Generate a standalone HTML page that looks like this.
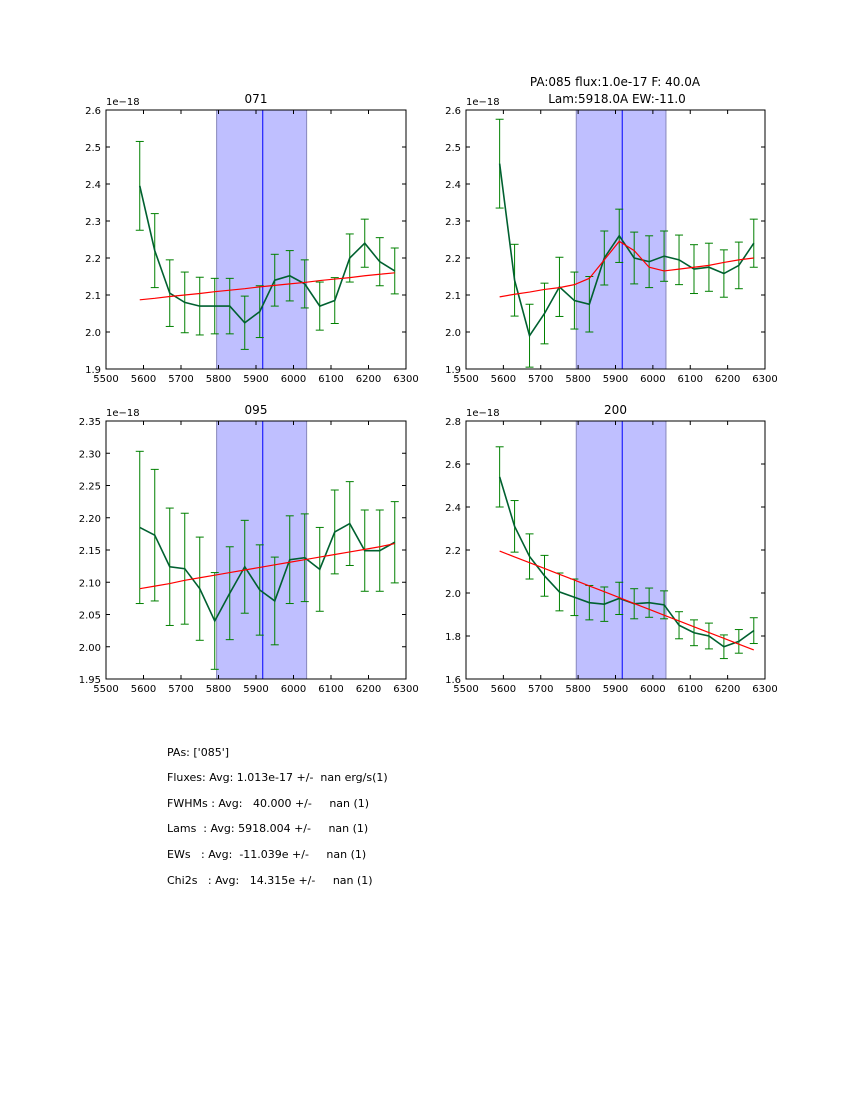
<!DOCTYPE html>
<html><head><meta charset="utf-8"><style>
body{margin:0;background:#fff;font-family:"DejaVu Sans","Liberation Sans",sans-serif}
svg{display:block}
</style></head><body>
<svg id="fig" width="850" height="1100" xmlns="http://www.w3.org/2000/svg" font-family="DejaVu Sans, Liberation Sans, sans-serif">
<rect width="850" height="1100" fill="#fff"/>
<text x="615" y="86" font-size="12" text-anchor="middle">PA:085 flux:1.0e-17 F: 40.0A</text>
<text x="617" y="103" font-size="12" text-anchor="middle">Lam:5918.0A EW:-11.0</text>
<g font-size="11">
<text x="167" y="756">PAs: ['085']</text>
<text x="167" y="781" xml:space="preserve">Fluxes: Avg: 1.013e-17 +/-  nan erg/s(1)</text>
<text x="167" y="807" xml:space="preserve">FWHMs : Avg:   40.000 +/-     nan (1)</text>
<text x="167" y="832" xml:space="preserve">Lams  : Avg: 5918.004 +/-     nan (1)</text>
<text x="167" y="858" xml:space="preserve">EWs   : Avg:  -11.039e +/-     nan (1)</text>
<text x="167" y="884" xml:space="preserve">Chi2s   : Avg:   14.315e +/-     nan (1)</text>
</g>
</svg>
<script>
const lams=[5590,5630,5670,5710,5750,5790,5830,5870,5910,5950,5990,6030,6070,6110,6150,6190,6230,6270];
const xTicks=[5500,5600,5700,5800,5900,6000,6100,6200,6300];
const flux071=[2.395,2.22,2.105,2.08,2.07,2.07,2.07,2.025,2.055,2.14,2.152,2.13,2.07,2.085,2.2,2.24,2.19,2.165];
const err071=[0.12,0.1,0.09,0.082,0.078,0.075,0.075,0.072,0.07,0.07,0.068,0.065,0.065,0.062,0.065,0.065,0.065,0.062];
const fit071=[2.087,2.091,2.096,2.1,2.104,2.109,2.113,2.117,2.122,2.126,2.13,2.134,2.139,2.143,2.147,2.152,2.156,2.16];
const yTicks071=[1.9,2.0,2.1,2.2,2.3,2.4,2.5,2.6];
const flux085=[2.455,2.14,1.99,2.05,2.122,2.085,2.075,2.2,2.26,2.2,2.19,2.205,2.195,2.17,2.175,2.158,2.18,2.24];
const err085=[0.12,0.097,0.085,0.082,0.08,0.077,0.075,0.073,0.072,0.07,0.07,0.068,0.067,0.066,0.065,0.064,0.063,0.065];
const fit085=[2.095,2.102,2.108,2.115,2.12,2.128,2.145,2.195,2.245,2.22,2.175,2.165,2.17,2.175,2.18,2.188,2.195,2.2];
const yTicks085=[1.9,2.0,2.1,2.2,2.3,2.4,2.5,2.6];
const flux095=[2.185,2.173,2.124,2.121,2.09,2.04,2.083,2.124,2.088,2.071,2.135,2.138,2.12,2.178,2.191,2.149,2.149,2.162];
const err095=[0.118,0.102,0.091,0.086,0.08,0.075,0.072,0.072,0.07,0.068,0.068,0.068,0.065,0.065,0.065,0.063,0.063,0.063];
const fit095=[2.09,2.094,2.098,2.103,2.107,2.111,2.115,2.119,2.123,2.127,2.131,2.135,2.139,2.143,2.147,2.151,2.155,2.16];
const yTicks095=[1.95,2.0,2.05,2.1,2.15,2.2,2.25,2.3,2.35];
const flux200=[2.54,2.31,2.17,2.08,2.005,1.98,1.955,1.948,1.975,1.95,1.955,1.945,1.85,1.815,1.8,1.75,1.775,1.825];
const err200=[0.14,0.12,0.105,0.095,0.088,0.085,0.08,0.08,0.075,0.07,0.068,0.065,0.063,0.06,0.06,0.055,0.055,0.06];
const fit200=[2.195,2.168,2.141,2.114,2.087,2.06,2.033,2.006,1.979,1.951,1.924,1.897,1.87,1.843,1.816,1.789,1.762,1.735];
const yTicks200=[1.6,1.8,2.0,2.2,2.4,2.6,2.8];
const bandLo=5795, bandHi=6035, lineCen=5918;

const NS="http://www.w3.org/2000/svg";
const svg=document.getElementById('fig');
function mk(tag,attrs,parent){const e=document.createElementNS(NS,tag);for(const k in attrs)e.setAttribute(k,attrs[k]);(parent||svg).appendChild(e);return e;}

function panel(id,title,x0,y0,w,h,flux,err,fit,yTicks,dec){
  const g=mk('g',{});
  
  
  const xmin=xTicks[0],xmax=xTicks[xTicks.length-1],ymin=yTicks[0],ymax=yTicks[yTicks.length-1];
  const X=v=>x0+(v-xmin)/(xmax-xmin)*w;
  const Y=v=>y0+h-(v-ymin)/(ymax-ymin)*h;
  const band=mk('rect',{x:X(bandLo),y:y0,width:X(bandHi)-X(bandLo),height:h,fill:'#bfbfff',stroke:'#8888bb','stroke-width':1},g);
  
  
  const cl=mk('line',{x1:X(lineCen),x2:X(lineCen),y1:y0,y2:y0+h,stroke:'#0000ff','stroke-width':1},g);
  
  
  lams.forEach((l,i)=>{
    const eb=mk('g',{stroke:'#008000','stroke-width':1},g);
    
    
    const xx=X(l),a=Y(flux[i]+err[i]),b=Y(flux[i]-err[i]);
    mk('line',{x1:xx,x2:xx,y1:a,y2:b},eb);
    mk('line',{x1:xx-4,x2:xx+4,y1:a,y2:a},eb);
    mk('line',{x1:xx-4,x2:xx+4,y1:b,y2:b},eb);
  });
  const dp=mk('polyline',{points:lams.map((l,i)=>X(l)+','+Y(flux[i])).join(' '),fill:'none',stroke:'#006030','stroke-width':1.6},g);
  
  
  const fp=mk('polyline',{points:lams.map((l,i)=>X(l)+','+Y(fit[i])).join(' '),fill:'none',stroke:'#ff0000','stroke-width':1.2},g);
  
  
  const fr=mk('rect',{x:x0,y:y0,width:w,height:h,fill:'none',stroke:'#000','stroke-width':1},g);
  
  
  xTicks.forEach(t=>{
    const xx=X(t);
    mk('line',{x1:xx,x2:xx,y1:y0+h,y2:y0+h-4,stroke:'#000'},g);
    mk('line',{x1:xx,x2:xx,y1:y0,y2:y0+4,stroke:'#000'},g);
    const tx=mk('text',{x:xx,y:y0+h+13,'font-size':10,'text-anchor':'middle'},g);
    tx.textContent=t;
    
    
  });
  yTicks.forEach(t=>{
    const yy=Y(t);
    mk('line',{x1:x0,x2:x0+4,y1:yy,y2:yy,stroke:'#000'},g);
    mk('line',{x1:x0+w,x2:x0+w-4,y1:yy,y2:yy,stroke:'#000'},g);
    const tx=mk('text',{x:x0-5,y:yy+4,'font-size':10,'text-anchor':'end'},g);
    tx.textContent=t.toFixed(dec);
    
    
  });
  const off=mk('text',{x:x0,y:y0-5,'font-size':10},g);
  off.textContent='1e\u221218';
  
  
  if(title){
    const tt=mk('text',{x:x0+w/2,y:y0-7,'font-size':12,'text-anchor':'middle'},g);
    tt.textContent=title;
    
    
  }
}
panel('071','071',106,110,300,259,flux071,err071,fit071,yTicks071,1);
panel('085','',466,110,299,259,flux085,err085,fit085,yTicks085,1);
panel('095','095',106,421,300,258,flux095,err095,fit095,yTicks095,2);
panel('200','200',466,421,299,258,flux200,err200,fit200,yTicks200,1);
</script>
</body></html>
